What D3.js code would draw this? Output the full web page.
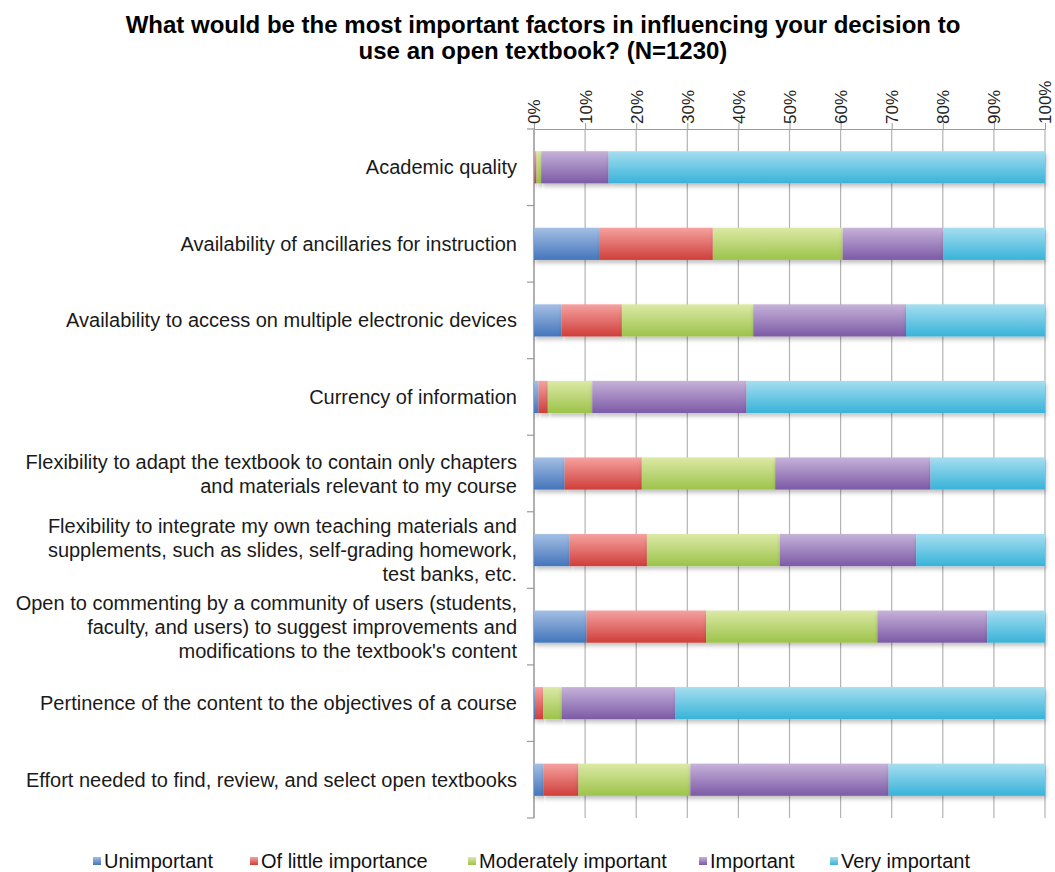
<!DOCTYPE html>
<html>
<head>
<meta charset="utf-8">
<script src="https://cdn.jsdelivr.net/npm/d3@7"></script>
<style>
  body { margin: 0; background: #fff; }
  svg text { font-family: "Liberation Sans", Arial, sans-serif; fill: #111; }
</style>
</head>
<body>
<div id="chart"></div>
<script>
// chart data (percent of respondents)
const categories = [
    "Academic quality",
    "Availability of ancillaries for instruction",
    "Availability to access on multiple electronic devices",
    "Currency of information",
    "Flexibility to adapt the textbook to contain only chapters\nand materials relevant to my course",
    "Flexibility to integrate my own teaching materials and\nsupplements, such as slides, self-grading homework,\ntest banks, etc.",
    "Open to commenting by a community of users (students,\nfaculty, and users) to suggest improvements and\nmodifications to the textbook's content",
    "Pertinence of the content to the objectives of a course",
    "Effort needed to find, review, and select open textbooks"
];
const seriesNames = ["Unimportant", "Of little importance", "Moderately important", "Important", "Very important"];
const unimportant = [0.1, 12.9, 5.4, 0.9, 6.0, 7.0, 10.3, 0.2, 1.8];
const littleImportance = [0.4, 22.1, 11.8, 1.8, 15.1, 15.1, 23.4, 1.6, 6.9];
const moderatelyImportant = [0.9, 25.4, 25.7, 8.7, 26.1, 26.0, 33.5, 3.6, 21.9];
const important = [13.2, 19.7, 29.9, 30.2, 30.4, 26.7, 21.5, 22.3, 38.8];
const veryImportant = [85.4, 19.9, 27.2, 58.4, 22.4, 25.2, 11.3, 72.3, 30.6];
const xTicks = [0, 10, 20, 30, 40, 50, 60, 70, 80, 90, 100];

const colors = [
    { top: "#a4bfe4", bottom: "#4475bb" },
    { top: "#f5a2a0", bottom: "#cf3e3a" },
    { top: "#dce9a6", bottom: "#9cc34a" },
    { top: "#c6b2d9", bottom: "#7c5aa6" },
    { top: "#a6def0", bottom: "#38b3d9" }
];

const width = 1055, height = 872;
const margin = { top: 129, right: 10, bottom: 54, left: 534 };
const plotRight = 1045;

const svg = d3.select("#chart").append("svg")
    .attr("width", width)
    .attr("height", height);

// gradients for the bars
const defs = svg.append("defs");
colors.forEach((c, i) => {
    const g = defs.append("linearGradient")
        .attr("id", "grad" + i)
        .attr("x1", 0).attr("y1", 0).attr("x2", 0).attr("y2", 1);
    g.append("stop").attr("offset", "0%").attr("stop-color", c.top);
    g.append("stop").attr("offset", "100%").attr("stop-color", c.bottom);
});
const shadow = defs.append("filter").attr("id", "shadow")
    .attr("x", "-5%").attr("y", "-20%").attr("width", "110%").attr("height", "160%");
shadow.append("feDropShadow")
    .attr("dx", 1).attr("dy", 3).attr("stdDeviation", 2)
    .attr("flood-color", "#000").attr("flood-opacity", 0.25);

// build stacked data
const table = categories.map((c, i) => ({
    cat: c,
    s0: unimportant[i], s1: littleImportance[i], s2: moderatelyImportant[i],
    s3: important[i], s4: veryImportant[i]
}));
const keys = ["s0", "s1", "s2", "s3", "s4"];
const stacked = d3.stack().keys(keys).offset(d3.stackOffsetExpand)(table);

const x = d3.scaleLinear().domain([0, 1]).range([margin.left, plotRight]);
const y = d3.scaleBand()
    .domain(categories)
    .range([margin.top, height - margin.bottom])
    .paddingInner(0.58)
    .paddingOuter(0.29);

// gridlines
svg.append("g")
    .selectAll("line")
    .data(xTicks)
    .join("line")
    .attr("x1", d => x(d / 100)).attr("x2", d => x(d / 100))
    .attr("y1", margin.top).attr("y2", y.range()[1])
    .attr("stroke", "#b3b3b3")
    .attr("stroke-width", 1.2);

// top axis
const xAxis = d3.axisTop(x)
    .tickValues(xTicks.map(d => d / 100))
    .tickFormat(d3.format(".0%"))
    .tickSize(6);
const xAxisGroup = svg.append("g")
    .attr("transform", `translate(0, ${margin.top})`)
    .call(xAxis);
xAxisGroup.select(".domain").attr("stroke", "#9a9a9a");
xAxisGroup.selectAll(".tick line").attr("stroke", "#9a9a9a");
xAxisGroup.selectAll("text")
    .attr("transform", "rotate(-90)")
    .attr("x", 5)
    .attr("y", 0)
    .attr("dy", "0.35em")
    .attr("text-anchor", "start")
    .style("font-size", "17px")
    .style("fill", "#222");

// left axis line with ticks between bands
const step = y.step();
const bounds = d3.range(categories.length + 1).map(i => margin.top + i * step);
svg.append("line")
    .attr("x1", margin.left).attr("x2", margin.left)
    .attr("y1", margin.top).attr("y2", y.range()[1])
    .attr("stroke", "#9a9a9a").attr("stroke-width", 1.2);
svg.append("g").selectAll("line")
    .data(bounds)
    .join("line")
    .attr("x1", margin.left - 7).attr("x2", margin.left)
    .attr("y1", d => d).attr("y2", d => d)
    .attr("stroke", "#9a9a9a").attr("stroke-width", 1.2);

// bars
svg.append("g")
    .selectAll("g")
    .data(stacked)
    .join("g")
    .attr("fill", (d, i) => `url(#grad${i})`)
    .selectAll("rect")
    .data(d => d)
    .join("rect")
    .attr("x", d => x(d[0]))
    .attr("y", d => y(d.data.cat))
    .attr("width", d => x(d[1]) - x(d[0]))
    .attr("height", y.bandwidth())
    .attr("filter", "url(#shadow)");

// category labels
const lineH = 24;
const labels = svg.append("g")
    .selectAll("text")
    .data(categories)
    .join("text")
    .attr("text-anchor", "end")
    .style("font-size", "20px")
    .style("fill", "#1a1a1a");
labels.each(function (d) {
    const lines = d.split("\n");
    const cy = y(d) + y.bandwidth() / 2;
    const startY = cy - (lines.length - 1) * lineH / 2;
    d3.select(this).selectAll("tspan")
        .data(lines)
        .join("tspan")
        .attr("x", 517)
        .attr("y", (l, i) => startY + i * lineH)
        .attr("dy", "0.35em")
        .text(l => l);
});

// title
const title = svg.append("text")
    .attr("text-anchor", "middle")
    .style("font-size", "24px")
    .style("font-weight", "bold")
    .style("fill", "#000");
title.append("tspan").attr("x", 543).attr("y", 33)
    .text("What would be the most important factors in influencing your decision to");
title.append("tspan").attr("x", 543).attr("y", 59)
    .text("use an open textbook? (N=1230)");

// legend
const legendX = [93, 250, 468, 699, 830];
const legend = svg.append("g")
    .selectAll("g")
    .data(seriesNames)
    .join("g")
    .attr("transform", (d, i) => `translate(${legendX[i]}, 861)`);
legend.append("rect")
    .attr("x", 0).attr("y", -4)
    .attr("width", 8).attr("height", 8)
    .attr("fill", (d, i) => `url(#grad${i})`);
legend.append("text")
    .attr("x", 11)
    .attr("dy", "0.35em")
    .style("font-size", "20px")
    .text(d => d);
</script>
</body>
</html>
